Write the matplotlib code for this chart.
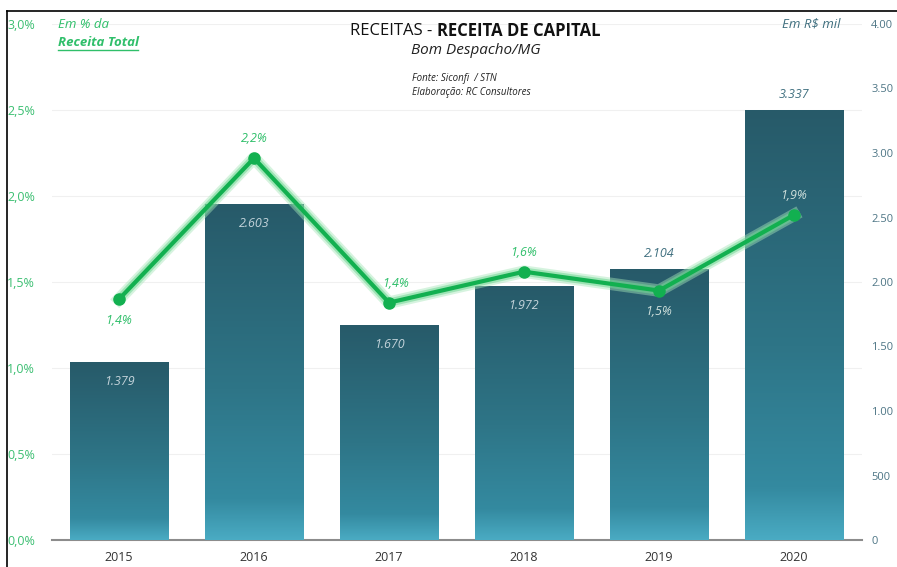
import numpy as np
import matplotlib.pyplot as plt
import matplotlib.patheffects as pe
from matplotlib.colors import LinearSegmentedColormap

plt.rcParams['font.family'] = ['Open Sans', 'DejaVu Sans']

# data
anos = ["2015", "2016", "2017", "2018", "2019", "2020"]
receita = [1379, 2603, 1670, 1972, 2104, 3337]
percentual = [1.40, 2.22, 1.38, 1.56, 1.45, 1.89]
rotulo_bar = ["1.379", "2.603", "1.670", "1.972", "2.104", "3.337"]
rotulo_pct = ["1,4%", "2,2%", "1,4%", "1,6%", "1,5%", "1,9%"]
bar_dentro = [True, True, True, True, False, False]
pct_acima = [False, True, True, True, False, True]
pct_cor_clara = [False, False, False, False, True, True]

verde = "#12b050"
verde_txt = "#2fbf6a"
teal_txt = "#3f6f7f"

fig = plt.figure(figsize=(8.97, 5.67), dpi=100)
ax = fig.add_axes([51.5 / 897, 27 / 567, 810 / 897, 516 / 567])
ax2 = ax.twinx()

x = np.arange(len(anos))
ax2.set_ylim(0, 4000)
ax.set_ylim(0, 3.0)
ax.set_xlim(-0.5, 5.5)

cmap = LinearSegmentedColormap.from_list(
    "grad", [(0.0, "#4aabc3"), (0.12, "#348aa0"), (0.45, "#2e7587"), (1.0, "#275a69")])
grad = np.linspace(0, 1, 256).reshape(-1, 1)

bars = ax2.bar(x, receita, width=0.73, color="none", edgecolor="none", zorder=2)
for b in bars:
    x0, w, h = b.get_x(), b.get_width(), b.get_height()
    im = ax2.imshow(grad, cmap=cmap, origin="lower", aspect="auto",
                    extent=[x0, x0 + w, 0, h], zorder=2)
    im.set_clip_path(b)
ax2.set_xlim(-0.5, 5.5)
ax2.set_ylim(0, 4000)

for i, v in enumerate(receita):
    if bar_dentro[i]:
        ax2.annotate(rotulo_bar[i], (x[i], v), xytext=(0, -14), textcoords="offset points",
                     ha="center", va="center", fontsize=9, style="italic",
                     color="#c3d3da", zorder=5)
    else:
        ax2.annotate(rotulo_bar[i], (x[i], v), xytext=(0, 11), textcoords="offset points",
                     ha="center", va="center", fontsize=9, style="italic",
                     color=teal_txt, zorder=5)

# line on its own axis drawn above bars
ax3 = ax.twinx()
ax3.set_ylim(0, 3.0)
ax3.set_xlim(-0.5, 5.5)
ax3.axis("off")
ax3.plot(x, percentual, color=verde, lw=3, zorder=4,
         path_effects=[pe.Stroke(linewidth=9, foreground="#a5e6b8", alpha=0.45),
                       pe.Stroke(linewidth=6, foreground="#6fd893", alpha=0.55),
                       pe.Normal()])
ax3.plot(x, percentual, ls="none", marker="o", ms=8, color=verde, zorder=4)
for i, v in enumerate(percentual):
    dy = 14 if pct_acima[i] else -15
    dx = 5 if i == 2 else 0
    cor = "#cfe0dc" if pct_cor_clara[i] else verde_txt
    ax3.annotate(rotulo_pct[i], (x[i], v), xytext=(dx, dy), textcoords="offset points",
                 ha="center", va="center", fontsize=9, style="italic", color=cor, zorder=5)

# axes styling
ax.set_yticks(np.arange(0, 3.01, 0.5))
ax.set_yticklabels([f"{t:.1f}%".replace(".", ",") for t in np.arange(0, 3.01, 0.5)])
ax.tick_params(axis="y", length=0, pad=12, labelsize=9, labelcolor="#3cbf72")
ax.set_xticks(x)
ax.set_xticklabels(anos)
ax.tick_params(axis="x", length=0, pad=8, labelsize=9, labelcolor="#333333")
ax.grid(axis="y", color="#f0f0f0", lw=0.8)
ax.set_axisbelow(True)

ax2.set_yticks(np.arange(0, 4001, 500))
ax2.set_yticklabels(["0", "500", "1.00", "1.50", "2.00", "2.50", "3.00", "3.50", "4.00"])
ax2.tick_params(axis="y", length=0, pad=7, labelsize=8, labelcolor="#4d7585")

for a in (ax, ax2, ax3):
    for s in a.spines.values():
        s.set_visible(False)
ax.spines["bottom"].set_visible(True)
ax.spines["bottom"].set_color("#8c8c8c")
ax.spines["bottom"].set_linewidth(1.5)

# frame
fig.add_artist(plt.Line2D([7 / 897, 7 / 897], [0, 1 - 11 / 567], color="black", lw=1.2))
fig.add_artist(plt.Line2D([7 / 897, 1], [1 - 11 / 567, 1 - 11 / 567], color="black", lw=1.2))

# titles
fig.text(437 / 897, 1 - 31 / 567, "RECEITAS - ", ha="right", va="center", fontsize=12, color="#111111")
fig.text(437 / 897, 1 - 31 / 567, "RECEITA DE CAPITAL", ha="left", va="center", fontsize=12,
         fontweight="bold", color="#111111")
fig.text(476 / 897, 1 - 51 / 567, "Bom Despacho/MG", ha="center", va="center", fontsize=11,
         style="italic", color="#222222")
fig.text(412 / 897, 1 - 79 / 567, "Fonte: Siconfi  / STN", ha="left", va="center", fontsize=7,
         style="italic", color="#222222")
fig.text(412 / 897, 1 - 93 / 567, "Elaboração: RC Consultores", ha="left", va="center", fontsize=7,
         style="italic", color="#222222")

fig.text(58 / 897, 1 - 25 / 567, "Em % da", ha="left", va="center", fontsize=9.5,
         style="italic", color=verde_txt)
fig.text(58 / 897, 1 - 42 / 567, "Receita Total", ha="left", va="center", fontsize=9.5,
         style="italic", fontweight="bold", color=verde_txt)
fig.add_artist(plt.Line2D([58 / 897, 138 / 897], [1 - 50 / 567, 1 - 50 / 567],
                          color=verde_txt, lw=1))
fig.text(840 / 897, 1 - 24 / 567, "Em R$ mil", ha="right", va="center", fontsize=9.5,
         style="italic", color=teal_txt)

fig.savefig("out.png", dpi=100)
